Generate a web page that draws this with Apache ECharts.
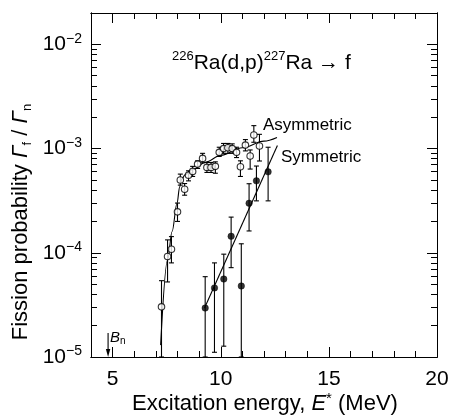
<!DOCTYPE html>
<html><head><meta charset="utf-8">
<script src="https://cdn.jsdelivr.net/npm/echarts@6/dist/echarts.min.js"></script>
<style>html,body{margin:0;padding:0;background:#fff}#c{width:449px;height:416px}</style>
</head><body><div id="c"></div>
<script>
// ---- axes ----
const xMin = 4, xMax = 20;
const yMin = 1e-5, yMax = 0.02;
const xMajorTicks = [5, 10, 15, 20];
const xMinorTicks = [6, 7, 8, 9, 11, 12, 13, 14, 16, 17, 18, 19];
const yMajorTicks = [1e-5, 1e-4, 1e-3, 1e-2];
const yMinorTicks = [2e-5, 3e-5, 4e-5, 5e-5, 6e-5, 7e-5, 8e-5, 9e-5,
                     2e-4, 3e-4, 4e-4, 5e-4, 6e-4, 7e-4, 8e-4, 9e-4,
                     2e-3, 3e-3, 4e-3, 5e-3, 6e-3, 7e-3, 8e-3, 9e-3];

// ---- asymmetric fission (open circles) ----
const asymEnergy = [7.26, 7.54, 7.72, 8.00, 8.13, 8.33, 8.51, 8.70, 8.93, 9.16, 9.36, 9.55, 9.75,
                    9.93, 10.13, 10.33, 10.53, 10.73, 10.91, 11.14, 11.36, 11.53, 11.79];
const asymProb   = [3.03e-5, 9.2e-5, 1.08e-4, 2.47e-4, 5.0e-4, 4.07e-4, 5.56e-4, 6.04e-4, 7.1e-4, 8.05e-4, 6.6e-4, 6.6e-4, 6.75e-4,
                    9.2e-4, 1.0e-3, 1.02e-3, 1.0e-3, 9.2e-4, 6.7e-4, 1.08e-3, 8.5e-4, 1.35e-3, 1.06e-3];
const asymErrHi  = [5.4e-5, 1.33e-4, 1.43e-4, 3.0e-4, 5.69e-4, 4.62e-4, 6.12e-4, 6.75e-4, 7.63e-4, 9.0e-4, 7.36e-4, 7.36e-4, 7.46e-4,
                    1.03e-3, 1.12e-3, 1.12e-3, 1.11e-3, 1.03e-3, 7.63e-4, 1.22e-3, 9.7e-4, 1.66e-3, 1.37e-3];
const asymErrLo  = [1.0e-5, 5.25e-5, 8.0e-5, 2.0e-4, 4.46e-4, 3.57e-4, 4.9e-4, 5.4e-4, 6.45e-4, 7.3e-4, 5.9e-4, 5.9e-4, 5.8e-4,
                    8.4e-4, 9.0e-4, 9.0e-4, 9.0e-4, 8.2e-4, 5.4e-4, 9.5e-4, 6.36e-4, 1.15e-3, 7.6e-4];

// ---- symmetric fission (filled circles) ----
const symEnergy = [9.28, 9.71, 10.14, 10.48, 10.95, 11.31, 11.65, 12.19];
const symProb   = [2.95e-5, 4.6e-5, 5.6e-5, 1.44e-4, 4.8e-5, 2.99e-4, 4.9e-4, 5.98e-4];
const symErrHi  = [5.9e-5, 8.0e-5, 9.7e-5, 2.2e-4, 1.22e-4, 4.6e-4, 6.8e-4, 1.03e-3];
const symErrLo  = [1.0e-5, 1.11e-5, 1.27e-5, 7.2e-5, 1.0e-5, 1.62e-4, 3.15e-4, 3.15e-4];

// ---- fitted curves ----
const asymFitEnergy = [7.22, 7.54, 7.75, 7.98, 8.1, 8.2, 8.35, 8.7, 9.3, 10.0, 11.0, 12.0, 12.6];
const asymFitProb   = [1.3e-5, 8.5e-5, 1.6e-4, 3.0e-4, 4.3e-4, 5.1e-4, 5.6e-4, 6.3e-4, 7.4e-4, 8.6e-4, 1.02e-3, 1.18e-3, 1.28e-3];
const symFitEnergy  = [9.25, 12.62];
const symFitProb    = [2.95e-5, 1.07e-3];

// ---- neutron binding energy marker ----
const bnEnergy = 4.79;
const bnArrowRange = [1.7e-5, 1.0e-5];

const zip2 = (a, b) => a.map((v, i) => [v, b[i]]);
const zip3 = (a, b, c) => a.map((v, i) => [v, b[i], c[i]]);

const FONT = 'Liberation Sans, Arial, sans-serif';
const K = '#000';

function errRender(params, api) {
  const x = api.value(0), lo = api.value(1), hi = api.value(2);
  const pHi = api.coord([x, hi]);
  const pLo = api.coord([x, lo]);
  const w = 2.5;
  const st = { stroke: K, lineWidth: 1.1 };
  return {
    type: 'group', children: [
      { type: 'line', shape: { x1: pHi[0], y1: pHi[1], x2: pLo[0], y2: pLo[1] }, style: st },
      { type: 'line', shape: { x1: pHi[0] - w, y1: pHi[1], x2: pHi[0] + w, y2: pHi[1] }, style: st },
      { type: 'line', shape: { x1: pLo[0] - w, y1: pLo[1], x2: pLo[0] + w, y2: pLo[1] }, style: st }
    ]
  };
}

function arrowRender(params, api) {
  const x = api.value(0);
  const pT = api.coord([x, api.value(1)]);
  const pB = api.coord([x, api.value(2)]);
  return {
    type: 'group', children: [
      { type: 'line', shape: { x1: pT[0], y1: pT[1], x2: pB[0], y2: pB[1] - 6 }, style: { stroke: K, lineWidth: 1.1 } },
      { type: 'polygon', shape: { points: [[pB[0] - 2.2, pB[1] - 8], [pB[0] + 2.2, pB[1] - 8], [pB[0], pB[1]]] }, style: { fill: K } }
    ]
  };
}

const lineSt = { color: K, width: 1 };
function xAx(pos, ticks, len, labels) {
  return {
    type: 'value', min: xMin, max: xMax, position: pos,
    axisLine: { show: true, onZero: false, lineStyle: lineSt },
    axisTick: { show: true, inside: true, length: len, customValues: ticks, lineStyle: lineSt },
    axisLabel: labels ? { show: true, customValues: ticks, color: K, fontSize: 21, fontFamily: FONT, margin: 12 } : { show: false },
    splitLine: { show: false }, minorTick: { show: false }
  };
}
function yAx(pos, ticks, len, labels) {
  return {
    type: 'log', logBase: 10, min: yMin, max: yMax, position: pos,
    axisLine: { show: true, onZero: false, lineStyle: lineSt },
    axisTick: { show: true, inside: true, length: len, customValues: ticks, lineStyle: lineSt },
    axisLabel: labels ? {
      show: true, customValues: ticks, margin: 9,
      formatter: v => '{b|10}{s|\u2212' + Math.abs(Math.round(Math.log10(v))) + '}',
      rich: {
        b: { fontSize: 21, fontFamily: FONT, color: K, lineHeight: 25 },
        s: { fontSize: 14, fontFamily: FONT, color: K, lineHeight: 16, verticalAlign: 'top' }
      }
    } : { show: false },
    splitLine: { show: false }, minorTick: { show: false }
  };
}

const chart = echarts.init(document.getElementById('c'), null, { renderer: 'canvas' });
chart.setOption({
  animation: false,
  backgroundColor: '#fff',
  grid: { left: 91, right: 12, top: 13, bottom: 59, containLabel: false, outerBoundsMode: 'none' },
  xAxis: [
    xAx('bottom', xMajorTicks, 10, true),
    xAx('bottom', xMinorTicks, 6, false),
    xAx('top', xMajorTicks, 10, false),
    xAx('top', xMinorTicks, 6, false)
  ],
  yAxis: [
    yAx('left', yMajorTicks, 10, true),
    yAx('left', yMinorTicks, 6, false),
    yAx('right', yMajorTicks, 10, false),
    yAx('right', yMinorTicks, 6, false)
  ],
  series: [
    { type: 'line', data: zip2(asymFitEnergy, asymFitProb), showSymbol: false, symbol: 'none',
      smooth: 0.35, smoothMonotone: 'x', lineStyle: { color: K, width: 1.1 }, z: 2, silent: true },
    { type: 'line', data: zip2(symFitEnergy, symFitProb), showSymbol: false, symbol: 'none',
      lineStyle: { color: K, width: 1.1 }, z: 2, silent: true },
    { type: 'custom', renderItem: errRender, data: zip3(asymEnergy, asymErrLo, asymErrHi),
      encode: { x: 0, y: [1, 2] }, clip: true, z: 3, silent: true },
    { type: 'custom', renderItem: errRender, data: zip3(symEnergy, symErrLo, symErrHi),
      encode: { x: 0, y: [1, 2] }, clip: true, z: 3, silent: true },
    { type: 'scatter', data: zip2(asymEnergy, asymProb), symbol: 'circle', symbolSize: 6.5,
      itemStyle: { color: '#fff', borderColor: K, borderWidth: 1.1 }, z: 4 },
    { type: 'scatter', data: zip2(symEnergy, symProb), symbol: 'circle', symbolSize: 6.5,
      itemStyle: { color: K, borderColor: K, borderWidth: 0.5 }, z: 4 },
    { type: 'custom', renderItem: arrowRender, data: [[bnEnergy, bnArrowRange[0], bnArrowRange[1]]],
      encode: { x: 0, y: [1, 2] }, z: 3, silent: true }
  ],
  graphic: [
    { type: 'text', left: 172, top: 50, style: {
        text: '{s|226}{m|Ra(d,p)}{s|227}{m|Ra \u2192 f}',
        rich: {
          m: { fontSize: 21, fontFamily: FONT, fill: K, lineHeight: 26 },
          s: { fontSize: 13, fontFamily: FONT, fill: K, lineHeight: 16, verticalAlign: 'top' }
        } } },
    { type: 'text', left: 263, top: 117, style: { text: 'Asymmetric', font: '17px ' + FONT, fill: K } },
    { type: 'text', left: 281, top: 149, style: { text: 'Symmetric', font: '17px ' + FONT, fill: K } },
    { type: 'text', left: 110, top: 330, style: {
        text: '{i|B}{n|n}',
        rich: {
          i: { fontSize: 15, fontStyle: 'italic', fontFamily: FONT, fill: K, lineHeight: 18 },
          n: { fontSize: 10, fontFamily: FONT, fill: K, lineHeight: 12, verticalAlign: 'bottom' }
        } } },
    { type: 'text', x: 265, y: 404, style: {
        text: '{m|Excitation energy, }{i|E}{s|*}{m| (MeV)}', align: 'center', verticalAlign: 'middle',
        rich: {
          m: { fontSize: 22, fontFamily: FONT, fill: K, lineHeight: 26 },
          i: { fontSize: 22, fontStyle: 'italic', fontFamily: FONT, fill: K, lineHeight: 26 },
          s: { fontSize: 15, fontFamily: FONT, fill: K, lineHeight: 17, verticalAlign: 'top' }
        } } },
    { type: 'text', x: 21, y: 222, rotation: Math.PI / 2, style: {
        text: '{m|Fission probability }{i|\u0393}{u|f}{m| / }{i|\u0393}{u|n}', align: 'center', verticalAlign: 'middle',
        rich: {
          m: { fontSize: 22, fontFamily: FONT, fill: K, lineHeight: 26 },
          i: { fontSize: 22, fontStyle: 'italic', fontFamily: FONT, fill: K, lineHeight: 26 },
          u: { fontSize: 13, fontFamily: FONT, fill: K, lineHeight: 15, verticalAlign: 'bottom' }
        } } }
  ]
});
</script></body></html>
